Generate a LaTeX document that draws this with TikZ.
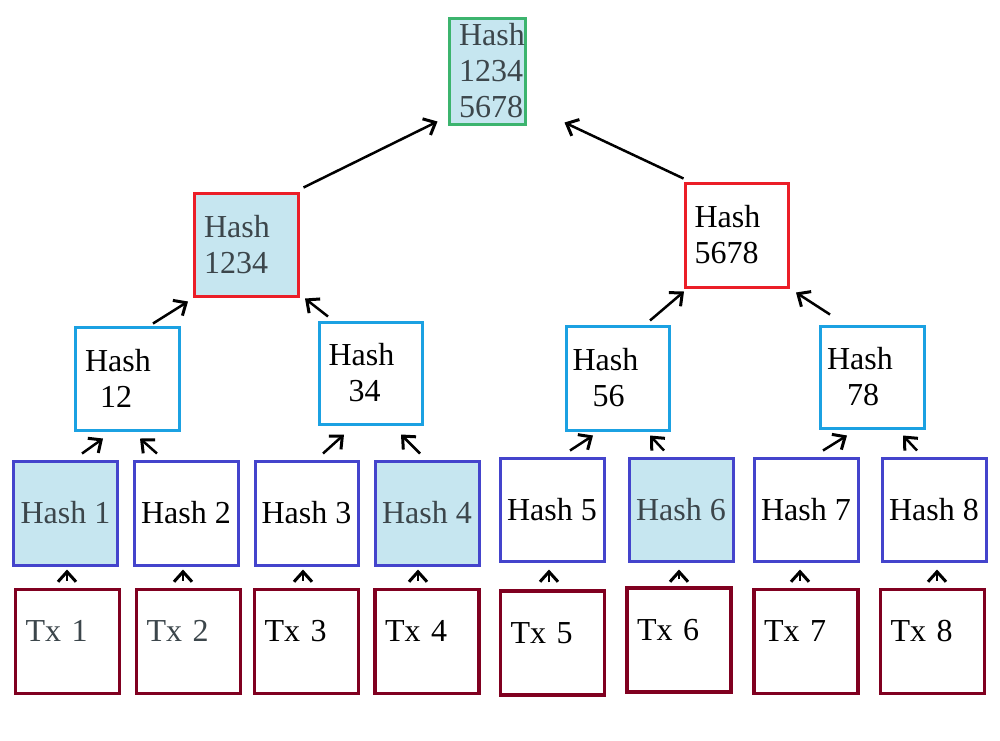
\documentclass[tikz,border=0pt]{standalone}
\usepackage{fontspec}
\setmainfont{Liberation Serif}
\usetikzlibrary{arrows.meta}
\definecolor{cgreen}{RGB}{60,180,110}
\definecolor{cred}{RGB}{235,30,40}
\definecolor{ccyan}{RGB}{27,161,226}
\definecolor{cblue}{RGB}{68,68,204}
\definecolor{cwine}{RGB}{128,0,32}
\definecolor{cfill}{RGB}{198,230,240}
\definecolor{ctext}{RGB}{60,70,75}
\begin{document}
\begin{tikzpicture}[x=1pt,y=-1pt,
  box/.style={draw,line width=3pt,minimum width=104pt,minimum height=104pt,inner sep=0pt,font=\fontsize{32}{36}\selectfont},
  lbox/.style={box,text width=84pt,align=left},
  shaded/.style={fill=cfill,text=ctext},
  leaf/.style={box,draw=cblue},
  mid/.style={lbox,draw=ccyan},
  upper/.style={lbox,draw=cred},
  txbox/.style={lbox,draw=cwine,line width=3.5pt},
  arr/.style={line width=2.5pt,-{Straight Barb[length=10pt,width=18pt,line width=3pt]}}
]
\useasboundingbox (0,0) rectangle (1000,740);
\fill[white] (0,0) rectangle (1000,740);

% root
\node[lbox,draw=cgreen,shaded,minimum width=76pt,minimum height=106pt,text width=56pt] (root) at (487,71) {Hash\\1234\\5678};

% level 2
\node[upper,shaded,minimum height=103pt] (h1234) at (246,244.5) {Hash\\1234};
\node[upper,minimum width=103pt] (h5678) at (736.5,235) {Hash\\5678};

% level 1
\node[mid,minimum height=103pt] (h12) at (127,378.5) {Hash\\\hspace*{15pt}12};
\node[mid,minimum width=103pt,minimum height=102pt] (h34) at (370.5,373) {Hash\\\hspace*{20pt}34};
\node[mid,minimum width=103pt,text width=90pt] (h56) at (617.5,378) {Hash\\\hspace*{20pt}56};
\node[mid,minimum height=102pt,text width=90pt] (h78) at (872,377) {Hash\\\hspace*{20pt}78};

% leaf hashes
\node[leaf,shaded] (h1) at (65.5,513) {Hash 1};
\node[leaf] (h2) at (186,513) {Hash 2};
\node[leaf,minimum width=103pt] (h3) at (306.5,513) {Hash 3};
\node[leaf,shaded] (h4) at (427,513) {Hash 4};
\node[leaf,minimum height=103pt] (h5) at (552,509.5) {Hash 5};
\node[leaf,shaded,minimum height=103pt] (h6) at (681,509.5) {Hash 6};
\node[leaf,minimum height=103pt] (h7) at (806,509.5) {Hash 7};
\node[leaf,minimum height=103pt] (h8) at (934,509.5) {Hash 8};

% transactions
\node[txbox,text=ctext] (t1) at (67.5,641.5) {\smash{Tx 1}};
\node[txbox,text=ctext] (t2) at (188.5,641.5) {\smash{Tx 2}};
\node[txbox] (t3) at (306.5,641.5) {\smash{Tx 3}};
\node[txbox] (t4) at (427,641.5) {\smash{Tx 4}};
\node[txbox] (t5) at (552.5,643) {\smash{Tx 5}};
\node[txbox] (t6) at (679,640) {\smash{Tx 6}};
\node[txbox] (t7) at (806,641.5) {\smash{Tx 7}};
\node[txbox] (t8) at (932.5,641.5) {\smash{Tx 8}};

% tx -> leaf
\draw[arr] ([xshift=-0.5,yshift=7]t1.north) -- ([xshift=1.5,yshift=-3]h1.south);
\draw[arr] ([xshift=-5.5,yshift=7]t2.north) -- ([xshift=-3,yshift=-3]h2.south);
\draw[arr] ([xshift=-3.5,yshift=7]t3.north) -- ([xshift=-3.5,yshift=-3]h3.south);
\draw[arr] ([xshift=-9,yshift=7]t4.north) -- ([xshift=-9,yshift=-3]h4.south);
\draw[arr] ([xshift=-3.5,yshift=7]t5.north) -- ([xshift=-3,yshift=-7]h5.south);
\draw[arr] ([xshift=0,yshift=7]t6.north) -- ([xshift=-2,yshift=-7]h6.south);
\draw[arr] ([xshift=-6,yshift=7]t7.north) -- ([xshift=-6,yshift=-7]h7.south);
\draw[arr] ([xshift=4.5,yshift=7]t8.north) -- ([xshift=3,yshift=-7]h8.south);

% leaf -> level 1
\draw[arr] ([xshift=16.5,yshift=6]h1.north) -- ([xshift=-24,yshift=-7]h12.south);
\draw[arr] ([xshift=-29,yshift=6]h2.north) -- ([xshift=13,yshift=-7]h12.south);
\draw[arr] ([xshift=16.5,yshift=6]h3.north) -- ([xshift=-26.5,yshift=-9]h34.south);
\draw[arr] ([xshift=-7,yshift=6]h4.north) -- ([xshift=30.5,yshift=-9]h34.south);
\draw[arr] ([xshift=18,yshift=6]h5.north) -- ([xshift=-24.5,yshift=-4]h56.south);
\draw[arr] ([xshift=-17,yshift=6]h6.north) -- ([xshift=32.5,yshift=-4]h56.south);
\draw[arr] ([xshift=17,yshift=6]h7.north) -- ([xshift=-25,yshift=-6]h78.south);
\draw[arr] ([xshift=-17,yshift=6]h8.north) -- ([xshift=31,yshift=-6]h78.south);

% level 1 -> level 2
\draw[arr] ([xshift=26,yshift=2]h12.north) -- ([xshift=-58,yshift=-4]h1234.south);
\draw[arr] ([xshift=-42.5,yshift=4]h34.north) -- ([xshift=59,yshift=-1]h1234.south);
\draw[arr] ([xshift=32.5,yshift=4]h56.north) -- ([xshift=-52.5,yshift=-3]h5678.south);
\draw[arr] ([xshift=-42,yshift=10]h78.north) -- ([xshift=59.5,yshift=-4]h5678.south);

% level 2 -> root
\draw[arr] ([xshift=4,yshift=4]h1234.north east) -- ([xshift=-10,yshift=4]root.south west);
\draw[arr] ([xshift=0,yshift=3]h5678.north west) -- ([xshift=38,yshift=3]root.south east);
\end{tikzpicture}
\end{document}
